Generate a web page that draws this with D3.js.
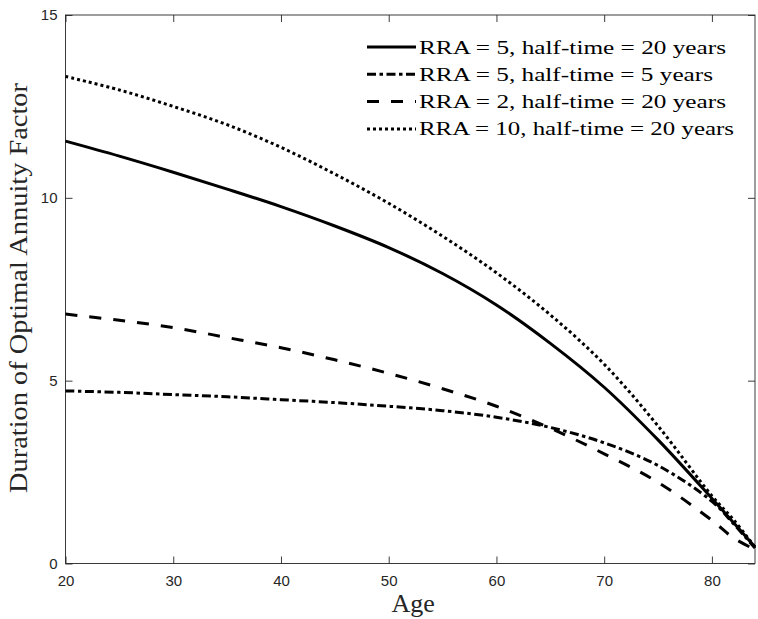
<!DOCTYPE html>
<html>
<head>
<meta charset="utf-8">
<script src="https://cdn.jsdelivr.net/npm/d3@7"></script>
<style>
  html, body { margin: 0; padding: 0; background: #fff; }
  svg { display: block; }
</style>
</head>
<body>
<svg id="chart" width="758" height="619"></svg>
<script>
// ---- data ----
const ages = [20, 25, 30, 35, 40, 45, 50, 55, 60, 65, 70, 75, 80, 82, 84];
const rra5_ht20 = [11.55, 11.14, 10.70, 10.24, 9.76, 9.23, 8.64, 7.93, 7.07, 6.02, 4.82, 3.38, 1.78, 1.12, 0.45];
const rra5_ht5  = [4.72, 4.68, 4.62, 4.56, 4.48, 4.40, 4.30, 4.18, 4.0, 3.72, 3.30, 2.68, 1.70, 1.09, 0.42];
const rra2_ht20 = [6.82, 6.65, 6.45, 6.18, 5.9, 5.57, 5.2, 4.78, 4.3, 3.7, 3.0, 2.22, 1.18, 0.70, 0.38];
const rra10_ht20 = [13.32, 12.95, 12.5, 12.0, 11.38, 10.65, 9.85, 8.95, 7.95, 6.8, 5.45, 3.76, 1.85, 1.2, 0.45];
const seriesNames = [
  "RRA = 5, half-time = 20 years",
  "RRA = 5, half-time = 5 years",
  "RRA = 2, half-time = 20 years",
  "RRA = 10, half-time = 20 years"
];
const xTicks = [20, 30, 40, 50, 60, 70, 80];
const yTicks = [0, 5, 10, 15];
const xLabel = "Age";
const yLabel = "Duration of Optimal Annuity Factor";

// ---- styling ----
const series = [
  { name: seriesNames[0], values: rra5_ht20, dash: null },
  { name: seriesNames[1], values: rra5_ht5, dash: "9,3.5,3.5,3.5" },
  { name: seriesNames[2], values: rra2_ht20, dash: "12,12" },
  { name: seriesNames[3], values: rra10_ht20, dash: "3,3" }
];
const legendLen = [307, 294, 307, 315];

const svg = d3.select("#chart");
const L = 65.5, R = 755, T = 15, B = 563.5;
const x = d3.scaleLinear().domain([20, 84]).range([L, R]);
const y = d3.scaleLinear().domain([0, 15]).range([B, T]);
const axisColor = "#262626";
const tickFont = "'Liberation Sans', Arial, Helvetica, sans-serif";
const serif = "'Liberation Serif', 'Times New Roman', serif";

// frame
svg.append("rect")
  .attr("x", L).attr("y", T).attr("width", R - L).attr("height", B - T)
  .attr("fill", "none").attr("stroke", axisColor).attr("stroke-width", 0.9);

// axes with inward ticks
const tickLen = 7;
const gx = svg.append("g").attr("transform", `translate(0,${B})`)
  .call(d3.axisBottom(x).tickValues(xTicks).tickSizeInner(-tickLen).tickSizeOuter(0).tickPadding(12));
const gxTop = svg.append("g").attr("transform", `translate(0,${T})`)
  .call(d3.axisTop(x).tickValues(xTicks).tickSizeInner(-tickLen).tickSizeOuter(0).tickFormat(""));
const gy = svg.append("g").attr("transform", `translate(${L},0)`)
  .call(d3.axisLeft(y).tickValues(yTicks).tickSizeInner(-tickLen).tickSizeOuter(0).tickPadding(8));
const gyR = svg.append("g").attr("transform", `translate(${R},0)`)
  .call(d3.axisRight(y).tickValues(yTicks).tickSizeInner(-tickLen).tickSizeOuter(0).tickFormat(""));

[gx, gxTop, gy, gyR].forEach(g => {
  g.select(".domain").remove();
  g.selectAll(".tick line").attr("stroke", axisColor).attr("stroke-width", 0.9);
  g.selectAll(".tick text").attr("fill", axisColor)
    .style("font-family", tickFont).style("font-size", "15px");
});
gx.selectAll(".tick text").attr("dy", "0.71em");

// curves
const line = d3.line()
  .x((d, i) => x(ages[i]))
  .y(d => y(d))
  .curve(d3.curveCatmullRom.alpha(0.5));

series.forEach(s => {
  svg.append("path")
    .attr("d", line(s.values))
    .attr("fill", "none")
    .attr("stroke", "#000")
    .attr("stroke-width", 3)
    .attr("stroke-dasharray", s.dash)
    .attr("stroke-linejoin", "round");
});

// legend
const legY0 = 47, legDy = 27.3;
series.forEach((s, i) => {
  const yy = legY0 + i * legDy;
  svg.append("line")
    .attr("x1", 367).attr("x2", 416).attr("y1", yy).attr("y2", yy)
    .attr("stroke", "#000").attr("stroke-width", 3)
    .attr("stroke-dasharray", s.dash);
  svg.append("text")
    .attr("x", 419).attr("y", yy + 6.5)
    .attr("textLength", legendLen[i])
    .attr("lengthAdjust", "spacingAndGlyphs")
    .style("font-family", serif).style("font-size", "19.5px")
    .attr("fill", "#000")
    .text(s.name);
});

// axis labels
svg.append("text")
  .attr("x", (L + R) / 2 + 3).attr("y", 612)
  .attr("text-anchor", "middle")
  .style("font-family", serif).style("font-size", "26px")
  .attr("fill", axisColor)
  .text(xLabel);

svg.append("text")
  .attr("transform", `translate(27,${(83 + 493) / 2}) rotate(-90)`)
  .attr("text-anchor", "middle")
  .attr("textLength", 410)
  .attr("lengthAdjust", "spacingAndGlyphs")
  .style("font-family", serif).style("font-size", "26px")
  .attr("fill", axisColor)
  .text(yLabel);
</script>
</body>
</html>
